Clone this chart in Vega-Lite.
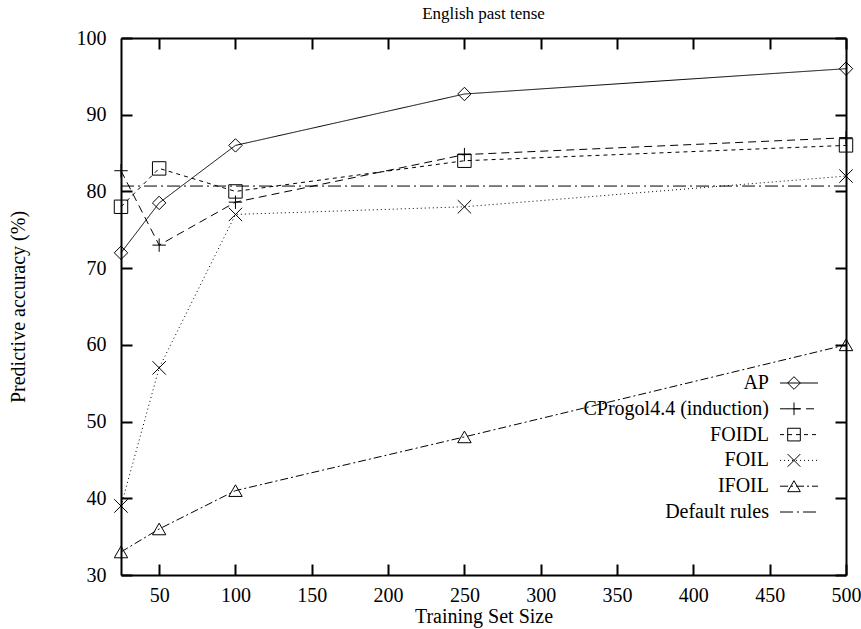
{
  "$schema": "https://vega.github.io/schema/vega-lite/v6.json",
  "width": 725,
  "height": 537,
  "autosize": {"type": "none"},
  "padding": {"left": 121, "top": 38, "right": 15, "bottom": 54},
  "background": "white",
  "title": {"text": "English past tense", "fontSize": 17, "fontWeight": "normal", "font": "Liberation Serif", "color": "black", "offset": 5},
  "config": {
    "view": {"stroke": null},
    "font": "Liberation Serif",
    "axis": {"grid": false, "domainColor": "black", "domainWidth": 2, "tickColor": "black", "tickWidth": 2, "tickSize": -11, "labelFlush": false, "labelFont": "Liberation Serif", "labelFontSize": 20, "labelColor": "black", "titleFont": "Liberation Serif", "titleFontSize": 20, "titleFontWeight": "normal", "titleColor": "black"},
    "legend": {"labelFont": "Liberation Serif", "labelFontSize": 20, "labelColor": "black", "labelLimit": 0}
  },
  "data": {"values": [
    {"x": 25, "y": 72, "s": "AP"},
    {"x": 50, "y": 78.5, "s": "AP"},
    {"x": 100, "y": 86, "s": "AP"},
    {"x": 250, "y": 92.7, "s": "AP"},
    {"x": 500, "y": 96, "s": "AP"},
    {"x": 25, "y": 82.7, "s": "CProgol4.4 (induction)"},
    {"x": 50, "y": 73, "s": "CProgol4.4 (induction)"},
    {"x": 100, "y": 78.6, "s": "CProgol4.4 (induction)"},
    {"x": 250, "y": 84.8, "s": "CProgol4.4 (induction)"},
    {"x": 500, "y": 87, "s": "CProgol4.4 (induction)"},
    {"x": 25, "y": 78, "s": "FOIDL"},
    {"x": 50, "y": 83, "s": "FOIDL"},
    {"x": 100, "y": 80, "s": "FOIDL"},
    {"x": 250, "y": 84, "s": "FOIDL"},
    {"x": 500, "y": 86, "s": "FOIDL"},
    {"x": 25, "y": 39, "s": "FOIL"},
    {"x": 50, "y": 57, "s": "FOIL"},
    {"x": 100, "y": 77, "s": "FOIL"},
    {"x": 250, "y": 78, "s": "FOIL"},
    {"x": 500, "y": 82, "s": "FOIL"},
    {"x": 25, "y": 33, "s": "IFOIL"},
    {"x": 50, "y": 36, "s": "IFOIL"},
    {"x": 100, "y": 41, "s": "IFOIL"},
    {"x": 250, "y": 48, "s": "IFOIL"},
    {"x": 500, "y": 60, "s": "IFOIL"},
    {"x": 25, "y": 80.7, "s": "Default rules"},
    {"x": 500, "y": 80.7, "s": "Default rules"}
  ]},
  "layer": [
    {
      "mark": {"type": "line", "color": "black", "strokeWidth": 1},
      "encoding": {
        "x": {"field": "x", "type": "quantitative", "scale": {"domain": [25, 500], "nice": false, "zero": false},
              "axis": {"orient": "bottom", "values": [50, 100, 150, 200, 250, 300, 350, 400, 450, 500], "title": "Training Set Size", "labelPadding": 21, "titlePadding": 1}},
        "y": {"field": "y", "type": "quantitative", "scale": {"domain": [30, 100], "nice": false, "zero": false},
              "axis": {"orient": "left", "values": [30, 40, 50, 60, 70, 80, 90, 100], "title": "Predictive accuracy (%)", "labelPadding": 26, "titlePadding": 48}},
        "strokeDash": {"field": "s", "type": "nominal",
          "scale": {"domain": ["AP", "CProgol4.4 (induction)", "FOIDL", "FOIL", "IFOIL", "Default rules"],
                    "range": [[1, 0], [8, 5], [4, 4], [1, 3], [8, 3, 2, 3], [13, 4, 2, 4]]},
          "legend": {"orient": "none", "legendX": 668, "legendY": 335, "title": null, "symbolType": "M-3,0L3,0", "symbolSize": 160, "symbolStrokeColor": "black", "symbolStrokeWidth": 1, "labelExpr": "' '", "labelOpacity": 0, "labelAlign": "left", "labelOffset": 30, "rowPadding": 5.8}}
      }
    },
    {
      "transform": [{"filter": "datum.s !== 'Default rules'"}],
      "mark": {"type": "point", "filled": false, "color": "black", "strokeWidth": 1, "size": 180, "opacity": 1},
      "encoding": {
        "x": {"field": "x", "type": "quantitative", "axis": {"orient": "top", "values": [50, 100, 150, 200, 250, 300, 350, 400, 450, 500], "labels": false, "title": null}},
        "y": {"field": "y", "type": "quantitative", "axis": {"orient": "right", "values": [30, 40, 50, 60, 70, 80, 90, 100], "labels": false, "title": null}},
        "shape": {"field": "s", "type": "nominal",
          "scale": {"domain": ["AP", "CProgol4.4 (induction)", "FOIDL", "FOIL", "IFOIL", "Default rules"],
                    "range": ["diamond", "M-1,0L1,0M0,-1L0,1", "square", "M-1,-1L1,1M-1,1L1,-1", "triangle-up", "M0,0L0,0"]},
          "legend": {"orient": "none", "legendX": 663, "legendY": 335, "title": null, "symbolSize": 160, "symbolStrokeColor": "black", "symbolFillColor": "white", "symbolStrokeWidth": 1, "labelAlign": "right", "labelOffset": -35, "rowPadding": 5.8}}
      }
    }
  ],
  "resolve": {"legend": {"strokeDash": "independent", "shape": "independent"}}
}
